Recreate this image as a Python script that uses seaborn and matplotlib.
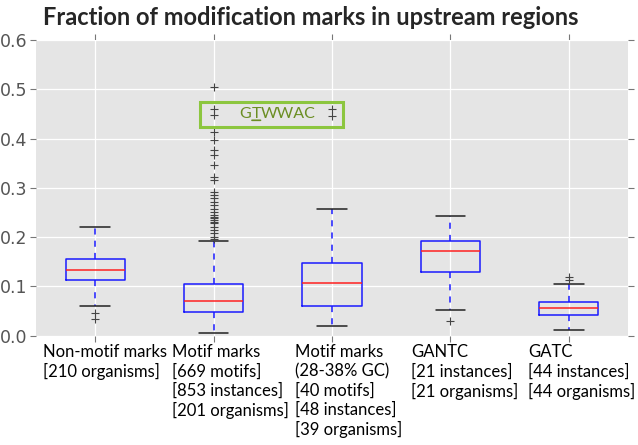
import matplotlib
matplotlib.use("Agg")
import matplotlib.pyplot as plt
import seaborn as sns

# box statistics
groups = ["Non-motif marks", "Motif marks", "Motif marks GC", "GANTC", "GATC"]
labels = [
    "Non-motif marks\n[210 organisms]",
    "Motif marks\n[669 motifs]\n[853 instances]\n[201 organisms]",
    "Motif marks\n(28-38% GC)\n[40 motifs]\n[48 instances]\n[39 organisms]",
    "GANTC\n[21 instances]\n[21 organisms]",
    "GATC\n[44 instances]\n[44 organisms]",
]
medians = [0.134, 0.070, 0.106, 0.171, 0.057]
q1 = [0.113, 0.048, 0.060, 0.129, 0.042]
q3 = [0.156, 0.1055, 0.147, 0.193, 0.068]
whislo = [0.061, 0.006, 0.0197, 0.052, 0.011]
whishi = [0.221, 0.192, 0.258, 0.243, 0.104]
fliers = [
    [0.047, 0.034],
    [0.505, 0.459, 0.448, 0.414, 0.397, 0.377, 0.367, 0.346, 0.323, 0.316,
     0.292, 0.285, 0.279, 0.272, 0.265, 0.258, 0.252, 0.245, 0.241, 0.238,
     0.235, 0.231, 0.228, 0.221, 0.215, 0.208, 0.201, 0.196],
    [0.460, 0.446],
    [0.030],
    [0.119, 0.113],
]

sns.set_style("darkgrid", {"axes.facecolor": "#E5E5E5", "grid.color": "white"})
plt.rcParams["font.family"] = ["DejaVu Sans"]

fig = plt.figure(figsize=(6.38, 4.45), dpi=100)
ax = fig.add_axes([36 / 638, 1 - 335.7 / 445, 592 / 638, 295.7 / 445])

stats = [
    {"label": g, "med": m, "q1": a, "q3": b, "whislo": lo, "whishi": hi, "fliers": f}
    for g, m, a, b, lo, hi, f in zip(groups, medians, q1, q3, whislo, whishi, fliers)
]
ax.bxp(
    stats,
    widths=0.5,
    boxprops=dict(color="#1a1aff", linewidth=1.1),
    medianprops=dict(color="#ff2020", linewidth=1.1),
    whiskerprops=dict(color="#1a1aff", linewidth=1.1, linestyle=(0, (4, 4))),
    capprops=dict(color="#222222", linewidth=1.1),
    flierprops=dict(marker="+", markeredgecolor="#444444", markersize=6, markeredgewidth=0.8),
)

ax.set_xlim(0.5, 5.5)
ax.set_ylim(0, 0.6)
ax.set_yticks([0.0, 0.1, 0.2, 0.3, 0.4, 0.5, 0.6])
ax.set_xticklabels([""] * 5)
for s in ax.spines.values():
    s.set_visible(False)
ax.tick_params(axis="both", which="both", direction="out", length=4, width=0.8,
               color="#777777", top=True, right=True, bottom=True, left=True,
               labelcolor="#555555", labelsize=12.5, pad=2)
ax.grid(True, color="white", linewidth=0.9)

# multi-line category labels, left aligned like the original
label_x = [43, 172, 295, 411, 528]
for x, txt in zip(label_x, labels):
    fig.text(x / 638, 1 - 344 / 445, txt, ha="left", va="top", fontsize=12,
             family=["Lato", "DejaVu Sans"], linespacing=1.24, color="black")

fig.text(43 / 638, 1 - 25 / 445, "Fraction of modification marks in upstream regions",
         ha="left", va="baseline", fontsize=17, fontweight="bold",
         family=["Lato", "DejaVu Sans"])

# GTWWAC call-out
rect = plt.Rectangle((1.883, 0.4227), 1.212, 0.0507, fill=False,
                     edgecolor="#8CC63F", linewidth=2.2, zorder=5)
ax.add_patch(rect)
kw = dict(fontsize=11.5, color="#6B8E23", family=["Lato", "DejaVu Sans"], va="center")
t1 = ax.text(2.32, 0.449, "G", ha="right", **kw)
t2 = ax.annotate("T", xy=(1, 0.5), xycoords=t1, ha="left", **kw)
t3 = ax.annotate("WWAC", xy=(1, 0.5), xycoords=t2, ha="left", **kw)
ax.annotate("", xy=(0.05, 0.08), xycoords=t2, xytext=(0.95, 0.08), textcoords=t2,
            arrowprops=dict(arrowstyle="-", color="#6B8E23", linewidth=1.2,
                            shrinkA=0, shrinkB=0))

fig.savefig("out.png", dpi=100)
